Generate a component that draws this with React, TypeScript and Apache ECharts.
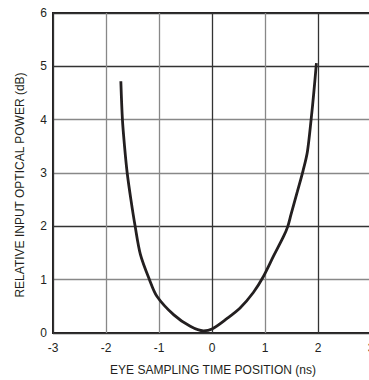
import React, { useEffect, useRef } from "react";
import * as echarts from "echarts";

const xValues = [-1.72, -1.69, -1.65, -1.6, -1.53, -1.45, -1.35, -1.18, -1.04, -0.72, -0.41, -0.16, 0.0, 0.28, 0.53, 0.78, 0.97, 1.16, 1.35, 1.43, 1.49, 1.61, 1.72, 1.8, 1.87, 1.92, 1.97];
const yValues = [4.72, 4.0, 3.5, 3.0, 2.5, 2.0, 1.47, 1.0, 0.69, 0.34, 0.125, 0.04, 0.075, 0.27, 0.47, 0.76, 1.06, 1.44, 1.81, 2.0, 2.22, 2.65, 3.05, 3.4, 4.0, 4.5, 5.06];
const xTicks = [-3, -2, -1, 0, 1, 2, 3];
const yTicks = [0, 1, 2, 3, 4, 5, 6];
const xTitle = "EYE SAMPLING TIME POSITION (ns)";
const yTitle = "RELATIVE INPUT OPTICAL POWER (dB)";

const FONT = "'Liberation Sans Narrow', 'Arial Narrow', 'Liberation Sans', sans-serif";

export default function App() {
  const ref = useRef<HTMLDivElement>(null);
  useEffect(() => {
    document.body.style.margin = "0";
    const chart = echarts.init(ref.current!, null, { renderer: "svg" });
    const data = xValues.map((x, i) => [x, yValues[i]]);
    chart.setOption({
      animation: false,
      backgroundColor: "#ffffff",
      grid: {
        left: 53,
        top: 13,
        width: 318,
        height: 320,
        outerBoundsMode: "none",
        containLabel: false,
        show: true,
        borderColor: "#231f20",
        borderWidth: 2,
      },
      xAxis: {
        type: "value",
        min: xTicks[0],
        max: xTicks[xTicks.length - 1],
        interval: 1,
        axisLine: { show: false },
        axisTick: { show: false },
        axisLabel: {
          margin: 9,
          fontFamily: FONT,
          fontSize: 12,
          color: "#231f20",
        },
        splitLine: {
          show: true,
          lineStyle: {
            color: ["#333", "#888", "#888", "#333", "#888", "#333", "#333"],
            width: 1.3,
          },
        },
      },
      yAxis: {
        type: "value",
        min: yTicks[0],
        max: yTicks[yTicks.length - 1],
        interval: 1,
        axisLine: { show: false },
        axisTick: { show: false },
        axisLabel: {
          margin: 6,
          fontFamily: FONT,
          fontSize: 12,
          color: "#231f20",
        },
        splitLine: {
          show: true,
          lineStyle: {
            color: ["#333", "#888", "#333", "#888", "#888", "#333", "#333"],
            width: 1.3,
          },
        },
      },
      graphic: [
        {
          type: "text",
          x: 213,
          y: 370,
          style: {
            text: xTitle,
            fontFamily: FONT,
            fontSize: 12,
            fill: "#231f20",
            align: "center",
            verticalAlign: "middle",
          },
        },
        {
          type: "text",
          x: 20,
          y: 185,
          rotation: Math.PI / 2,
          style: {
            text: yTitle,
            fontFamily: FONT,
            fontSize: 12,
            fill: "#231f20",
            align: "center",
            verticalAlign: "middle",
          },
        },
      ],
      series: [
        {
          type: "line",
          data,
          smooth: 0.3,
          showSymbol: false,
          lineStyle: { color: "#231f20", width: 2.8 },
        },
      ],
    });
    return () => chart.dispose();
  }, []);
  return <div ref={ref} style={{ width: 369, height: 380 }} />;
}
